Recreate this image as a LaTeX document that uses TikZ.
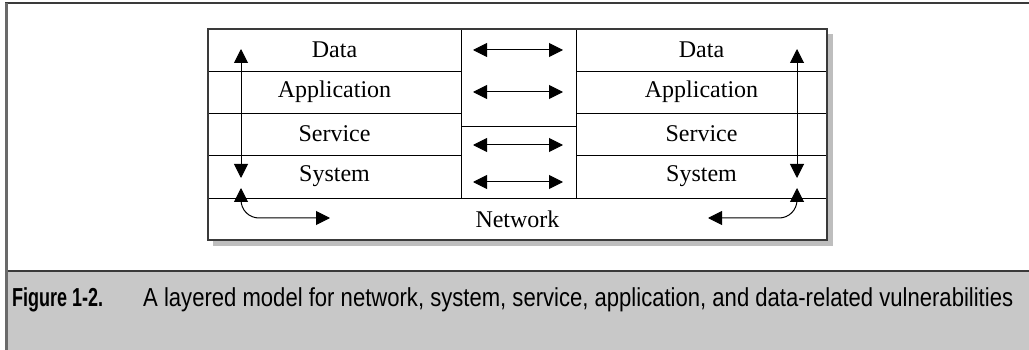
\documentclass[tikz,border=0pt]{standalone}
\usepackage{fontspec}
\usepackage{graphicx}
\setmainfont{Liberation Serif}
\newfontfamily\capfont{Liberation Sans}
\usetikzlibrary{arrows.meta}
\definecolor{bandgray}{HTML}{C8C8C8}
\definecolor{shadowgray}{HTML}{BEBEBE}
\definecolor{framegray}{HTML}{6A6A6A}
\definecolor{darkline}{HTML}{3A3A3A}
\tikzset{
  cell/.style={draw=black, line width=0.9pt, inner sep=0pt, font=\fontsize{24}{24}\selectfont},
  dbl/.style={line width=1pt, {Triangle[length=14pt,width=14pt]}-{Triangle[length=14pt,width=14pt]}},
}
\begin{document}
\begin{tikzpicture}[x=1pt,y=-1pt]
\useasboundingbox (0,0) rectangle (1029,350);
% outer frame and caption band
\fill[bandgray] (6,271) rectangle (1029,350);
\draw[darkline, line width=2.5pt] (6,271) -- (1029,271);
\draw[darkline, line width=2.5pt] (5,3) -- (1029,3);
\draw[framegray, line width=3pt] (6,3) -- (6,350);
% shadow
\fill[shadowgray] (213,34) rectangle (833,246);
\fill[white] (208,29) rectangle (827,240);
% cells
\node[cell, minimum width=253pt, minimum height=42pt] (ldata) at (334.5,50) {Data};
\node[cell, minimum width=253pt, minimum height=42pt] (lapp) at (334.5,92) {Application};
\node[cell, minimum width=253pt, minimum height=42pt] (lserv) at (334.5,134) {Service};
\node[cell, minimum width=253pt, minimum height=43pt] (lsys) at (334.5,176.5) {System};
\node[cell, minimum width=251pt, minimum height=42pt] (rdata) at (701.5,50) {Data};
\node[cell, minimum width=251pt, minimum height=42pt] (rapp) at (701.5,92) {Application};
\node[cell, minimum width=251pt, minimum height=42pt] (rserv) at (701.5,134) {Service};
\node[cell, minimum width=251pt, minimum height=43pt] (rsys) at (701.5,176.5) {System};
\node[cell, minimum width=115pt, minimum height=97pt] (mtop) at (518.5,77.5) {};
\node[cell, minimum width=115pt, minimum height=72pt] (mbot) at (518.5,162) {};
\node[cell, minimum width=619pt, minimum height=42pt] (net) at (517.5,219) {Network};
% outer box border
\draw[darkline, line width=1.4pt] (208,29) rectangle (827,240);
% middle arrows
\coordinate (m1a) at (473,50);  \coordinate (m1b) at (563,50);
\coordinate (m2a) at (473,92);  \coordinate (m2b) at (563,92);
\coordinate (m3a) at (473,145); \coordinate (m3b) at (563,145);
\coordinate (m4a) at (473,182); \coordinate (m4b) at (563,182);
\draw[dbl] (m1a) -- (m1b);
\draw[dbl] (m2a) -- (m2b);
\draw[dbl] (m3a) -- (m3b);
\draw[dbl] (m4a) -- (m4b);
% vertical arrows
\coordinate (lv1) at (241,49);  \coordinate (lv2) at (241,178);
\coordinate (rv1) at (797,49);  \coordinate (rv2) at (797,178);
\draw[dbl] (lv1) -- (lv2);
\draw[dbl] (rv1) -- (rv2);
% bottom curved arrows
\coordinate (lb1) at (241,188); \coordinate (lb2) at (330,218);
\coordinate (rb1) at (797,188); \coordinate (rb2) at (708,218);
\draw[dbl, rounded corners=18pt] (lb1) |- (lb2);
\draw[dbl, rounded corners=18pt] (rb1) |- (rb2);
% caption
\node[anchor=west, inner sep=0pt] (figlabel) at (12,300) {\resizebox{91pt}{\height}{\capfont\bfseries\fontsize{26}{26}\selectfont Figure 1-2.}};
\node[anchor=west, inner sep=0pt] (captext) at (143,300) {\resizebox{870pt}{\height}{\capfont\fontsize{26}{26}\selectfont A layered model for network, system, service, application, and data-related vulnerabilities}};
\end{tikzpicture}
\end{document}
